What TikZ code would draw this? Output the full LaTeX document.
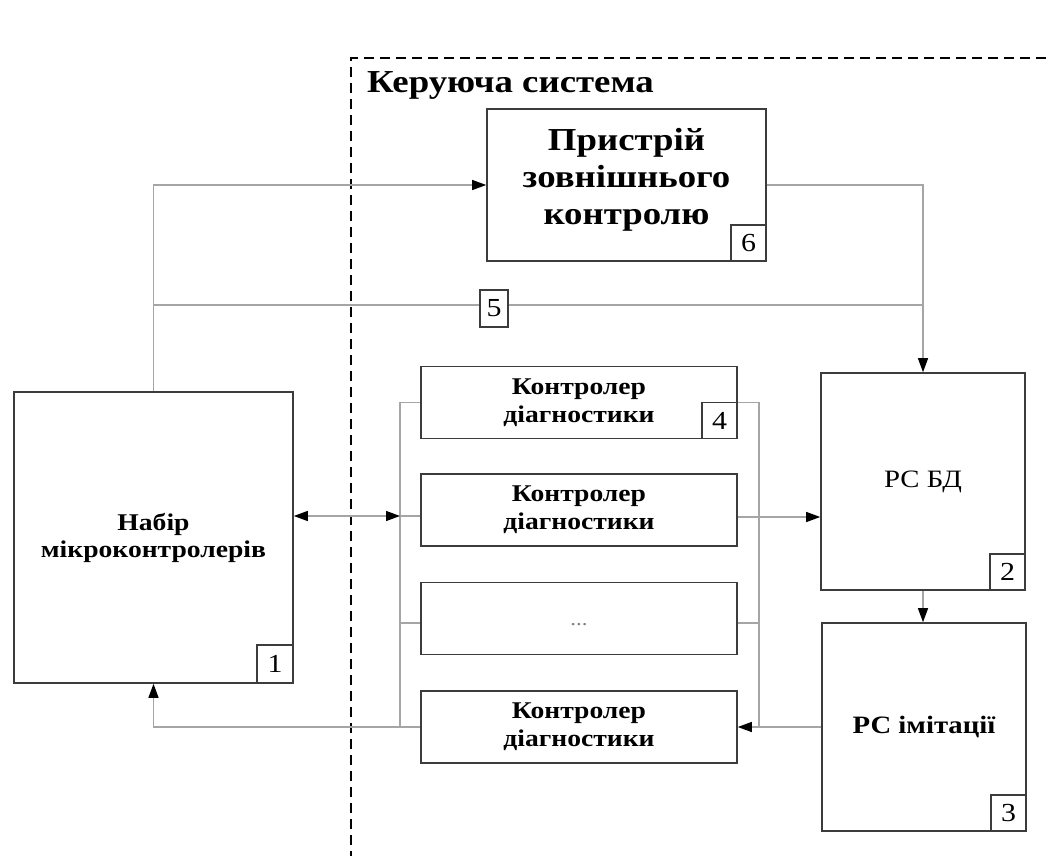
\documentclass[tikz,border=0pt]{standalone}
\usepackage{fontspec}
\setmainfont{Liberation Serif}[FakeStretch=1.15]
\usetikzlibrary{arrows.meta}
\definecolor{boxgray}{RGB}{60,60,60}
\definecolor{linegray}{RGB}{165,165,165}

\begin{document}
\begin{tikzpicture}[x=1pt,y=-1pt,
  blk/.style={draw=boxgray,line width=1.6pt,rectangle,inner sep=0pt,align=center,fill=white},
  numbox/.style={draw=boxgray,line width=1.4pt,rectangle,inner sep=0pt,
    minimum width=35pt,minimum height=36pt,anchor=south east,fill=white,
    font=\fontsize{26}{26}\selectfont},
  conn/.style={draw=linegray,line width=1.3pt},
  tip/.tip={Triangle[length=14pt,width=10pt,color=black]},
  arr/.style={conn,-tip},
  ctl/.style={blk,minimum width=316pt,minimum height=72pt,
    font=\fontsize{24}{28}\selectfont\bfseries},
  frame/.style={line width=1.8pt,dash pattern=on 10pt off 6pt}
]
\useasboundingbox (0,0) rectangle (1046,856);

% boundary of the control system
\draw[frame] (1046,58) -- (351,58) -- (351,856);
\node[anchor=base west,inner sep=0pt,font=\fontsize{32}{34}\selectfont\bfseries] (title) at (367,93) {Керуюча система};

% main blocks
\node[blk,minimum width=279pt,minimum height=291pt,font=\fontsize{24}{27}\selectfont\bfseries]
  (box1) at (153.5,537.5) {Набір\\мікроконтролерів};
\node[numbox,minimum width=36pt,minimum height=38pt] (n1) at (box1.south east) {1};

\node[blk,minimum width=279pt,minimum height=152pt] (box6) at (626.5,185) {};
\node[align=center,inner sep=0pt,font=\fontsize{32}{37}\selectfont\bfseries]
  (t6) at ([yshift=5pt]box6.center) {Пристрій\\зовнішнього\\контролю};
\node[numbox] (n6) at (box6.south east) {6};

\node[blk,minimum width=204pt,minimum height=217pt,font=\fontsize{25}{28}\selectfont]
  (box2) at (923,481.5) {РС БД};
\node[numbox] (n2) at (box2.south east) {2};

\node[blk,minimum width=204pt,minimum height=208pt,font=\fontsize{25}{28}\selectfont\bfseries]
  (box3) at (924,727) {РС імітації};
\node[numbox] (n3) at (box3.south east) {3};

% diagnostic controllers
\node[ctl] (cd1) at (579,402.5) {Контролер\\діагностики};
\node[numbox] (n4) at (cd1.south east) {4};
\node[ctl] (cd2) at (579,510) {Контролер\\діагностики};
\node[ctl] (cd3) at (579,618.5) {};
\node[text=gray,font=\fontsize{20}{20}\selectfont] (dots) at ([yshift=-6pt]cd3.center) {...};
\node[ctl] (cd4) at (579,727) {Контролер\\діагностики};

% junction points of the buses
\coordinate (j1) at (153,305);
\coordinate (j2) at (923,305);
\coordinate (lm) at (400,516);
\coordinate (rm) at (759,517);
\coordinate (l3) at (400,623);
\coordinate (r3) at (759,623);
\coordinate (rb) at (759,727);

% upper links
\draw[arr] (box1.north) |- (box6.west);
\draw[arr] (box6.east) -| (box2.north);
\draw[conn] (j1) -- (j2);
\node[numbox,anchor=center,minimum width=28pt,minimum height=37pt] (b5) at (494,308.5) {5};

% left bus
\draw[conn] (cd1.west) -| (cd4.west -| lm);
\draw[conn,tip-tip] (box1.east |- lm) -- (lm);
\draw[conn] (lm) -- (lm -| cd2.west);
\draw[conn] (l3) -- (l3 -| cd3.west);
\draw[arr] (cd4.west) -| (box1.south);

% right bus
\draw[conn] (cd1.east) -| (rb);
\draw[conn] (r3 -| cd3.east) -- (r3);
\draw[arr] (rm -| cd2.east) -- (rm -| box2.west);
\draw[arr] (box3.west) -- (cd4.east);
\draw[arr] (box2.south) -- (box2.south |- box3.north);
\end{tikzpicture}
\end{document}
